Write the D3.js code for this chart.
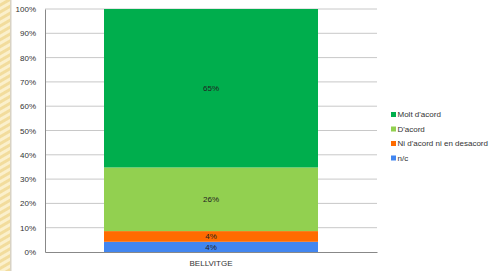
<!DOCTYPE html>
<html>
<head>
<meta charset="utf-8">
<script src="https://cdn.jsdelivr.net/npm/d3@7"></script>
<style>
  body { margin: 0; background: #fff; }
  svg { display: block; font-family: "Liberation Sans", Arial, sans-serif; }
</style>
</head>
<body>
<div id="chart"></div>
<script>
// data (percent of total, bottom to top)
const categories = ["BELLVITGE"];
const seriesNames = ["n/c", "Ni d'acord ni en desacord", "D'acord", "Molt d'acord"];
const seriesValues = [4.2, 4.4, 26.2, 65.2];
const seriesLabels = ["4%", "4%", "26%", "65%"];
const seriesColors = ["#4286f0", "#ff6b00", "#92d050", "#00ae4d"];
const yTicks = [0, 10, 20, 30, 40, 50, 60, 70, 80, 90, 100];

const width = 497, height = 271;
const margin = { top: 9, right: 120, bottom: 19, left: 45 };

const svg = d3.select("#chart").append("svg")
    .attr("width", width)
    .attr("height", height);

// pale striped strip on the left edge (slide background)
const defs = svg.append("defs");
defs.append("pattern")
    .attr("id", "stripe")
    .attr("patternUnits", "userSpaceOnUse")
    .attr("width", 6)
    .attr("height", 6)
    .attr("patternTransform", "rotate(60)")
    .append("rect")
    .attr("width", 3)
    .attr("height", 6)
    .attr("fill", "#fbf0cc");

svg.append("rect").attr("x", 0).attr("y", 0).attr("width", 10).attr("height", height).attr("fill", "#f2dc9c");
svg.append("rect").attr("x", 0).attr("y", 0).attr("width", 10).attr("height", height).attr("fill", "url(#stripe)");
svg.append("rect").attr("x", 10).attr("y", 0).attr("width", 1.5).attr("height", height).attr("fill", "#d8d2c4");

const x = d3.scaleBand()
    .domain(categories)
    .range([margin.left, width - margin.right])
    .paddingInner(0)
    .paddingOuter(0.2757);

const y = d3.scaleLinear()
    .domain([0, 100])
    .range([height - margin.bottom, margin.top]);

// gridlines
svg.append("g")
    .selectAll("line")
    .data(yTicks.slice(1))
    .enter().append("line")
    .attr("x1", margin.left)
    .attr("x2", width - margin.right)
    .attr("y1", d => y(d))
    .attr("y2", d => y(d))
    .attr("stroke", "#c8c8c8")
    .attr("stroke-width", 1);

// stacked bars
let stack = [];
let acc = 0;
seriesValues.forEach(function(v, i) {
    stack.push({ y0: acc, y1: acc + v, color: seriesColors[i], label: seriesLabels[i] });
    acc += v;
});

const bar = svg.append("g");
bar.selectAll("rect")
    .data(stack)
    .enter().append("rect")
    .attr("x", x(categories[0]))
    .attr("width", x.bandwidth())
    .attr("y", d => y(d.y1))
    .attr("height", d => y(d.y0) - y(d.y1))
    .attr("fill", d => d.color);

bar.selectAll("text")
    .data(stack)
    .enter().append("text")
    .attr("x", x(categories[0]) + x.bandwidth() / 2)
    .attr("y", d => (y(d.y0) + y(d.y1)) / 2 + 3)
    .attr("text-anchor", "middle")
    .attr("font-size", 8)
    .attr("fill", "#222")
    .text(d => d.label);

// axes
const yAxis = svg.append("g")
    .attr("transform", `translate(${margin.left},0)`)
    .call(d3.axisLeft(y).tickValues(yTicks).tickSize(0).tickPadding(9).tickFormat(d => d + "%"));
yAxis.select(".domain").attr("stroke", "#888");
yAxis.selectAll("text").attr("font-size", 8).attr("fill", "#333").attr("font-family", "Liberation Sans, Arial, sans-serif");

const xAxis = svg.append("g")
    .attr("transform", `translate(0,${height - margin.bottom})`)
    .call(d3.axisBottom(x).tickSize(0).tickPadding(8));
xAxis.select(".domain").attr("stroke", "#888");
xAxis.selectAll("text").attr("font-size", 8).attr("fill", "#333").attr("font-family", "Liberation Sans, Arial, sans-serif");

// legend (top to bottom)
const legendItems = seriesNames.map((n, i) => ({ name: n, color: seriesColors[i] })).reverse();
const legend = svg.append("g").attr("transform", "translate(391,112)");
const entry = legend.selectAll("g")
    .data(legendItems)
    .enter().append("g")
    .attr("transform", (d, i) => `translate(0,${i * 14.5})`);
entry.append("rect")
    .attr("width", 5)
    .attr("height", 5)
    .attr("fill", d => d.color);
entry.append("text")
    .attr("x", 6.5)
    .attr("y", 5)
    .attr("font-size", 8)
    .attr("fill", "#333")
    .text(d => d.name);
</script>
</body>
</html>
